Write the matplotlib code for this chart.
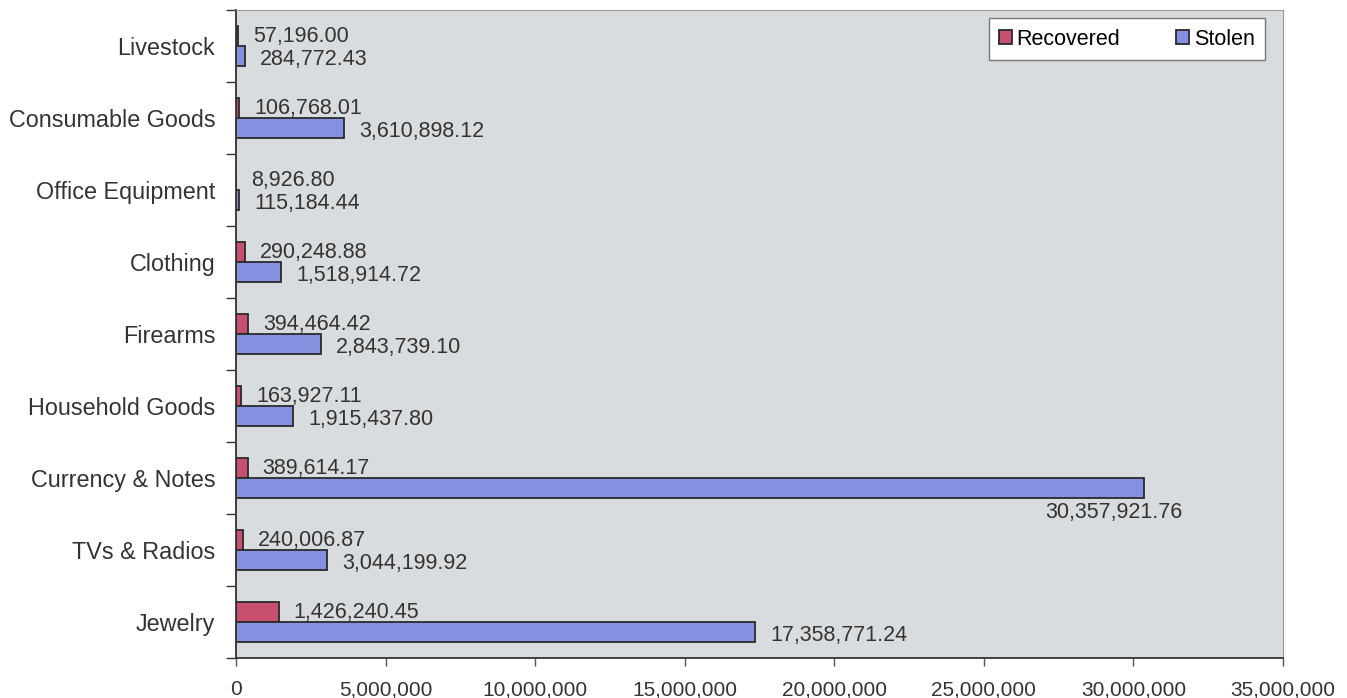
import matplotlib.pyplot as plt
import numpy as np

plt.rcParams['font.family'] = ['Liberation Sans', 'DejaVu Sans']

# categories from bottom to top
categories = ['Jewelry', 'TVs & Radios', 'Currency & Notes', 'Household Goods',
              'Firearms', 'Clothing', 'Office Equipment', 'Consumable Goods', 'Livestock']
recovered = [1426240.45, 240006.87, 389614.17, 163927.11, 394464.42,
             290248.88, 8926.80, 106768.01, 57196.00]
stolen = [17358771.24, 3044199.92, 30357921.76, 1915437.80, 2843739.10,
          1518914.72, 115184.44, 3610898.12, 284772.43]
xticks = [0, 5000000, 10000000, 15000000, 20000000, 25000000, 30000000, 35000000]

fig = plt.figure(figsize=(13.47, 6.98), dpi=100)
ax = fig.add_axes([0.1752, 0.0573, 0.9525 - 0.1752, 0.9857 - 0.0573])
ax.set_facecolor('#D9DCDF')

y = np.arange(len(categories))
h = 0.28
bars_r = ax.barh(y + h / 2, recovered, height=h, color='#C6506E', edgecolor='#2A2A2A',
                 linewidth=1.3, label='Recovered')
bars_s = ax.barh(y - h / 2, stolen, height=h, color='#8391E0', edgecolor='#2A2A2A',
                 linewidth=1.3, label='Stolen')

for b, v in zip(bars_r, recovered):
    ax.annotate(f'{v:,.2f}', (b.get_width(), b.get_y() + b.get_height() / 2),
                xytext=(15, -1), textcoords='offset pixels', ha='left', va='center',
                fontsize=15.5, color='#333333')
for b, v in zip(bars_s, stolen):
    if v > 25000000:
        ax.annotate(f'{v:,.2f}', (b.get_width(), b.get_y() + b.get_height() / 2),
                    xytext=(38, -24), textcoords='offset pixels', ha='right', va='center',
                    fontsize=15.5, color='#333333')
    else:
        ax.annotate(f'{v:,.2f}', (b.get_width(), b.get_y() + b.get_height() / 2),
                    xytext=(15, -3), textcoords='offset pixels', ha='left', va='center',
                    fontsize=15.5, color='#333333')

ax.set_xlim(0, 35000000)
ax.set_ylim(-0.5, len(categories) - 0.5)
ax.set_xticks(xticks)
ax.set_xticklabels([f'{t:,}' for t in xticks], fontsize=15, color='#333333')
ax.set_yticks(y)
ax.set_yticklabels(categories, fontsize=16.8, color='#333333')
ax.set_yticks(np.arange(len(categories) + 1) - 0.5, minor=True)
ax.tick_params(axis='y', which='major', length=0, pad=15)
ax.tick_params(axis='y', which='minor', length=7, width=1, color='#333333', direction='out')
ax.tick_params(axis='x', length=6, width=1, color='#555555', pad=10)

for side in ['top', 'right']:
    ax.spines[side].set_color('#9A9A9A')
ax.spines['left'].set_color('#333333')
ax.spines['bottom'].set_color('#333333')
ax.spines['left'].set_linewidth(1.3)
ax.spines['bottom'].set_linewidth(1.3)

leg = ax.legend(loc='upper right', ncol=2, fontsize=15.5, frameon=True, fancybox=False,
                edgecolor='#777777', facecolor='white', framealpha=1,
                handlelength=0.6, handleheight=0.6, handletextpad=0.2, columnspacing=2.6,
                borderpad=0.5, borderaxespad=0, bbox_to_anchor=(0.983, 0.988))
leg.get_frame().set_linewidth(1.0)

fig.savefig('out.png', dpi=100)
